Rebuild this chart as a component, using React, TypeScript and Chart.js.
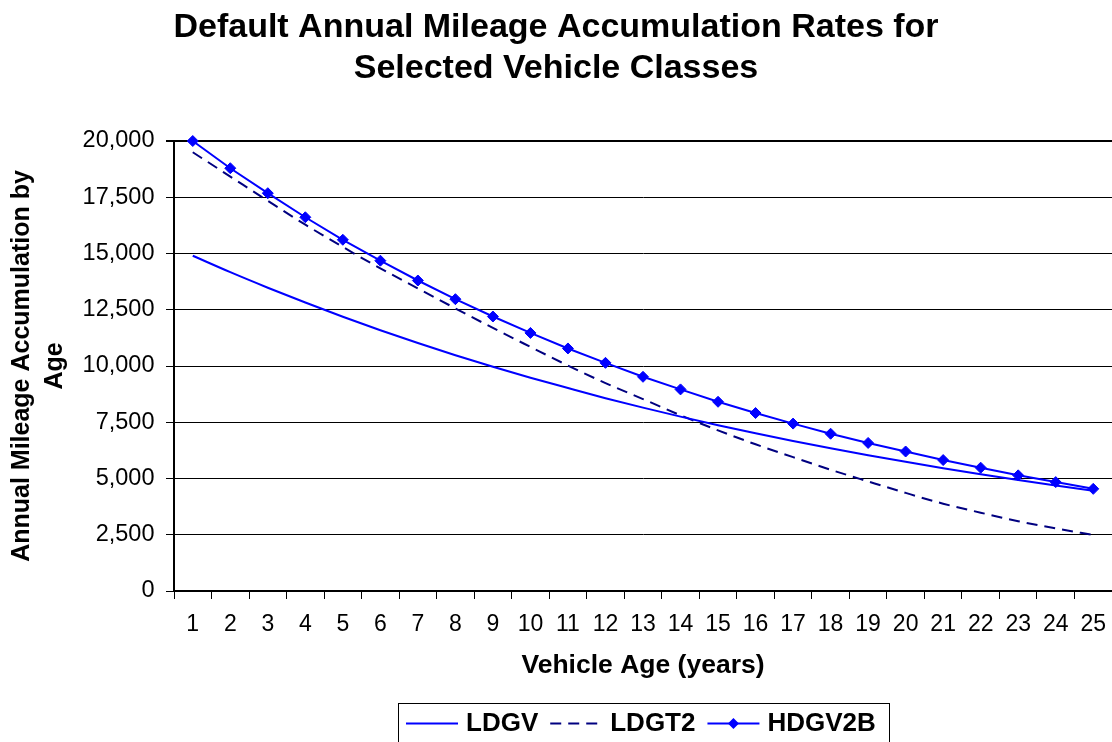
import React, { useEffect, useRef } from "react";
import { Chart, registerables } from "chart.js";

Chart.register(...registerables);

const TITLE_LINES = ["Default Annual Mileage Accumulation Rates for", "Selected Vehicle Classes"];
const Y_TITLE_LINES = ["Annual Mileage Accumulation by", "Age"];
const X_TITLE = "Vehicle Age (years)";

const vehicleAges = [
  "1", "2", "3", "4", "5", "6", "7", "8", "9", "10", "11", "12", "13",
  "14", "15", "16", "17", "18", "19", "20", "21", "22", "23", "24", "25",
];

const ldgv = [
  14900, 14170, 13480, 12820, 12190, 11590, 11020, 10480, 9970, 9480, 9020, 8570, 8150,
  7750, 7370, 7010, 6670, 6340, 6030, 5740, 5460, 5190, 4930, 4690, 4460,
];

const ldgt2 = [
  19500, 18420, 17340, 16280, 15290, 14340, 13450, 12560, 11690, 10850, 10020, 9240, 8530,
  7810, 7140, 6520, 5950, 5390, 4870, 4360, 3880, 3480, 3100, 2780, 2490,
];

const hdgv2b = [
  20000, 18790, 17680, 16610, 15610, 14680, 13800, 12970, 12200, 11470, 10780, 10140, 9520,
  8960, 8410, 7910, 7440, 6990, 6580, 6200, 5820, 5480, 5140, 4840, 4540,
];

const yTicksMin = 0;
const yTicksMax = 20000;
const yTicksStep = 2500;

const FONT = '"Liberation Sans", Arial, Helvetica, sans-serif';

const boxLegend = {
  id: "boxLegend",
  afterDraw(chart: any) {
    const ctx = chart.ctx as CanvasRenderingContext2D;
    const ca = chart.chartArea;
    const items = chart.data.datasets.map((d: any) => ({
      label: d.label as string,
      color: d.borderColor as string,
      dash: (d.borderDash || []) as number[],
      marker: (d.pointRadius || 0) > 0,
      markerColor: d.pointBackgroundColor as string,
    }));
    ctx.save();
    ctx.font = `bold 26px ${FONT}`;
    const sample = 52;
    const gap = 8;
    const itemGap = 12;
    const padL = 8;
    const padR = 13;
    const widths = items.map((it: any) => ctx.measureText(it.label).width);
    let total = padL + padR + itemGap * (items.length - 1);
    widths.forEach((w: number) => (total += sample + gap + w));
    const left = Math.round((ca.left + ca.right) / 2 - total / 2);
    const top = 703;
    const cy = 723.5;
    ctx.strokeStyle = "#000";
    ctx.lineWidth = 1;
    ctx.setLineDash([]);
    ctx.strokeRect(left + 0.5, top + 0.5, Math.round(total), 80);
    let x = left + padL;
    items.forEach((it: any, i: number) => {
      ctx.beginPath();
      ctx.strokeStyle = it.color;
      ctx.lineWidth = 2;
      ctx.setLineDash(it.dash);
      ctx.moveTo(x, cy);
      ctx.lineTo(x + sample, cy);
      ctx.stroke();
      ctx.setLineDash([]);
      if (it.marker) {
        const mx = x + sample / 2;
        const r = 5.5;
        ctx.beginPath();
        ctx.fillStyle = it.markerColor;
        ctx.moveTo(mx, cy - r);
        ctx.lineTo(mx + r, cy);
        ctx.lineTo(mx, cy + r);
        ctx.lineTo(mx - r, cy);
        ctx.closePath();
        ctx.fill();
      }
      x += sample + gap;
      ctx.fillStyle = "#000";
      ctx.textBaseline = "middle";
      ctx.textAlign = "left";
      ctx.fillText(it.label, x, cy);
      x += widths[i] + itemGap;
    });
    ctx.restore();
  },
};

export default function App() {
  const canvasRef = useRef<HTMLCanvasElement | null>(null);

  useEffect(() => {
    const canvas = canvasRef.current;
    if (!canvas) return;
    const chart = new Chart(canvas, {
      type: "line",
      data: {
        labels: vehicleAges,
        datasets: [
          {
            label: "LDGV",
            data: ldgv,
            borderColor: "#0000FF",
            backgroundColor: "#0000FF",
            borderWidth: 2,
            pointRadius: 0,
            pointHoverRadius: 0,
            cubicInterpolationMode: "monotone",
            clip: false,
          },
          {
            label: "LDGT2",
            data: ldgt2,
            borderColor: "#000080",
            backgroundColor: "#000080",
            borderWidth: 2,
            borderDash: [11, 7],
            pointRadius: 0,
            pointHoverRadius: 0,
            cubicInterpolationMode: "monotone",
            clip: false,
          },
          {
            label: "HDGV2B",
            data: hdgv2b,
            borderColor: "#0000FF",
            backgroundColor: "#0000FF",
            pointBackgroundColor: "#0000FF",
            pointBorderColor: "#0000FF",
            borderWidth: 2,
            pointStyle: "rectRot",
            pointRadius: 5.5,
            pointBorderWidth: 1,
            tension: 0,
            clip: false,
          },
        ],
      },
      options: {
        responsive: false,
        animation: false,
        events: [],
        layout: { autoPadding: false, padding: { left: 0, right: 0, top: 0, bottom: 51 } },
        plugins: {
          legend: { display: false },
          tooltip: { enabled: false },
          title: {
            display: true,
            text: TITLE_LINES,
            color: "#000",
            font: { family: FONT, size: 34, weight: "bold", lineHeight: 41 / 34 },
            padding: { top: 7, bottom: 52 },
          },
        },
        scales: {
          x: {
            type: "category",
            offset: true,
            afterFit: (scale: any) => {
              scale.height = 100;
              scale.paddingLeft = 0;
              scale.paddingRight = 0;
            },
            grid: {
              offset: true,
              drawOnChartArea: false,
              drawTicks: true,
              tickLength: 8,
              color: "#000",
              tickColor: "#000",
              lineWidth: 1,
            },
            border: { display: true, color: "#000", width: 2 },
            ticks: {
              color: "#000",
              padding: 12,
              maxRotation: 0,
              autoSkip: false,
              font: { family: FONT, size: 23 },
            },
            title: {
              display: true,
              text: X_TITLE,
              color: "#000",
              font: { family: FONT, size: 26.5, weight: "bold", lineHeight: 1.2 },
              padding: { top: 0, bottom: 9.5 },
            },
          },
          y: {
            min: yTicksMin,
            max: yTicksMax,
            afterFit: (scale: any) => {
              scale.width = 174;
            },
            grid: {
              color: "#000",
              tickColor: "#000",
              tickLength: 8,
              lineWidth: (c: any) => (c.tick && c.tick.value === yTicksMax ? 2 : 1),
            },
            border: { display: true, color: "#000", width: 2 },
            ticks: {
              stepSize: yTicksStep,
              color: "#000",
              padding: 11.5,
              font: { family: FONT, size: 23.5 },
              callback: (v: any) => Number(v).toLocaleString("en-US"),
            },
            title: {
              display: true,
              text: Y_TITLE_LINES,
              color: "#000",
              font: { family: FONT, size: 25, weight: "bold", lineHeight: 33 / 25 },
              padding: { top: 5.5, bottom: 0 },
            },
          },
        },
      },
      plugins: [boxLegend],
    } as any);
    return () => chart.destroy();
  }, []);

  return (
    <div style={{ position: "absolute", left: 0, top: 0, width: 1112, height: 742, background: "#fff" }}>
      <canvas ref={canvasRef} width={1112} height={742} style={{ display: "block" }} />
    </div>
  );
}
